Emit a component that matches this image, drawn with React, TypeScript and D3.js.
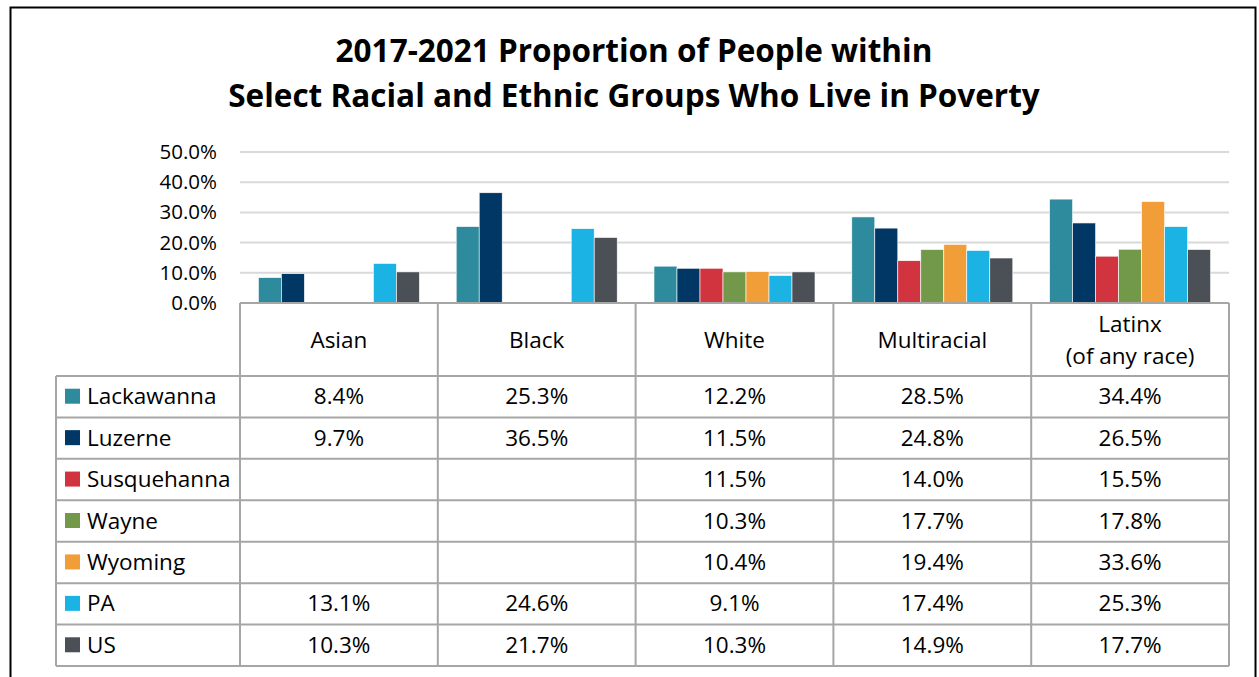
import React, { useEffect, useRef } from "react";
import * as d3 from "d3";

const groups = ["Asian", "Black", "White", "Multiracial", "Latinx\n(of any race)"];
const counties = ["Lackawanna", "Luzerne", "Susquehanna", "Wayne", "Wyoming", "PA", "US"];
const colors = ["#2E8B9D", "#003764", "#D1343F", "#72994A", "#F29E38", "#1AB3E3", "#4B5057"];

// values per county, one entry per group (null = no data)
const lackawanna = [8.4, 25.3, 12.2, 28.5, 34.4];
const luzerne = [9.7, 36.5, 11.5, 24.8, 26.5];
const susquehanna = [null, null, 11.5, 14.0, 15.5];
const wayne = [null, null, 10.3, 17.7, 17.8];
const wyoming = [null, null, 10.4, 19.4, 33.6];
const pa = [13.1, 24.6, 9.1, 17.4, 25.3];
const us = [10.3, 21.7, 10.3, 14.9, 17.7];
const yTicks = [0, 10, 20, 30, 40, 50];

const series = [lackawanna, luzerne, susquehanna, wayne, wyoming, pa, us];

const FONT = "'Open Sans', Lato, sans-serif";
const TABLE_FS = 22.5;

const App: React.FC = () => {
  const ref = useRef<SVGSVGElement | null>(null);

  useEffect(() => {
    if (!ref.current) return;
    const W = 1259, H = 677;
    const svg = d3.select(ref.current).attr("width", W).attr("height", H);
    svg.selectAll("*").remove();

    // outer frame
    svg.append("rect").attr("x", 10.5).attr("y", 7.5).attr("width", 1245).attr("height", 700)
      .attr("fill", "#fff").attr("stroke", "#000").attr("stroke-width", 2);

    // title
    const title = svg.append("text").attr("text-anchor", "middle").attr("font-family", FONT)
      .attr("font-weight", "bold").attr("font-size", 31.5).attr("fill", "#000");
    title.append("tspan").attr("x", 634).attr("y", 62).text("2017-2021 Proportion of People within");
    title.append("tspan").attr("x", 634).attr("y", 107).text("Select Racial and Ethnic Groups Who Live in Poverty");

    const left = 240, right = 1229, top = 152, base = 303;
    const tableLeft = 56, headerBottom = 376, tableBottom = 666;

    const x = d3.scaleBand<string>().domain(groups).range([left, right]);
    const y = d3.scaleLinear().domain([0, 50]).range([base, top]);
    const inner = d3.scaleBand<string>().domain(counties).range([0, x.bandwidth()])
      .paddingInner(0).paddingOuter(0.8);

    // gridlines
    svg.append("g").selectAll("line").data(yTicks.filter((t) => t > 0)).join("line")
      .attr("x1", left).attr("x2", right)
      .attr("y1", (d) => y(d)).attr("y2", (d) => y(d))
      .attr("stroke", "#D9D9D9").attr("stroke-width", 2);

    // y tick labels
    svg.append("g").selectAll("text").data(yTicks).join("text")
      .attr("x", 217).attr("y", (d) => y(d) + 7)
      .attr("text-anchor", "end").attr("font-family", FONT).attr("font-size", 20.5).attr("fill", "#000")
      .text((d) => d.toFixed(1) + "%");

    // bars
    series.forEach((vals, i) => {
      svg.append("g").selectAll("rect")
        .data(groups.map((g, j) => ({ g, v: vals[j] })).filter((d) => d.v != null))
        .join("rect")
        .attr("x", (d) => (x(d.g) as number) + (inner(counties[i]) as number))
        .attr("width", inner.bandwidth())
        .attr("y", (d) => y(d.v as number))
        .attr("height", (d) => base - y(d.v as number))
        .attr("fill", colors[i])
        .attr("stroke", "#fff").attr("stroke-width", 0.6);
    });

    // data table
    const rowH = (tableBottom - headerBottom) / counties.length;
    const grid = svg.append("g").attr("stroke", "#A6A6A6").attr("stroke-width", 2).attr("fill", "none");
    grid.append("line").attr("x1", left).attr("x2", right).attr("y1", base).attr("y2", base);
    [...groups.map((g) => x(g) as number), right].forEach((gx) => {
      grid.append("line").attr("x1", gx).attr("x2", gx).attr("y1", base).attr("y2", tableBottom);
    });
    grid.append("line").attr("x1", tableLeft).attr("x2", tableLeft).attr("y1", headerBottom).attr("y2", tableBottom);
    d3.range(counties.length + 1).forEach((r) => {
      const ry = headerBottom + r * rowH;
      grid.append("line").attr("x1", tableLeft).attr("x2", right).attr("y1", ry).attr("y2", ry);
    });

    // header labels
    groups.forEach((g) => {
      const lines = g.split("\n");
      const cx = (x(g) as number) + x.bandwidth() / 2;
      const t = svg.append("text").attr("text-anchor", "middle").attr("font-family", FONT)
        .attr("font-size", TABLE_FS).attr("fill", "#000");
      const cy = (base + headerBottom) / 2;
      lines.forEach((ln, k) => {
        t.append("tspan").attr("x", cx)
          .attr("y", cy + 8 + (k - (lines.length - 1) / 2) * 32).text(ln);
      });
    });

    // rows
    counties.forEach((c, i) => {
      const cy = headerBottom + i * rowH + rowH / 2;
      svg.append("rect").attr("x", 65).attr("y", cy - 8).attr("width", 15).attr("height", 15).attr("fill", colors[i]);
      svg.append("text").attr("x", 87).attr("y", cy + 7.5).attr("font-family", FONT)
        .attr("font-size", TABLE_FS).attr("fill", "#000").text(c);
      groups.forEach((g, j) => {
        const v = series[i][j];
        if (v == null) return;
        svg.append("text").attr("x", (x(g) as number) + x.bandwidth() / 2).attr("y", cy + 7.5)
          .attr("text-anchor", "middle").attr("font-family", FONT).attr("font-size", TABLE_FS).attr("fill", "#000")
          .text(v.toFixed(1) + "%");
      });
    });
  }, []);

  return <svg ref={ref} style={{ position: "absolute", left: 0, top: 0 }} />;
};

export default App;
